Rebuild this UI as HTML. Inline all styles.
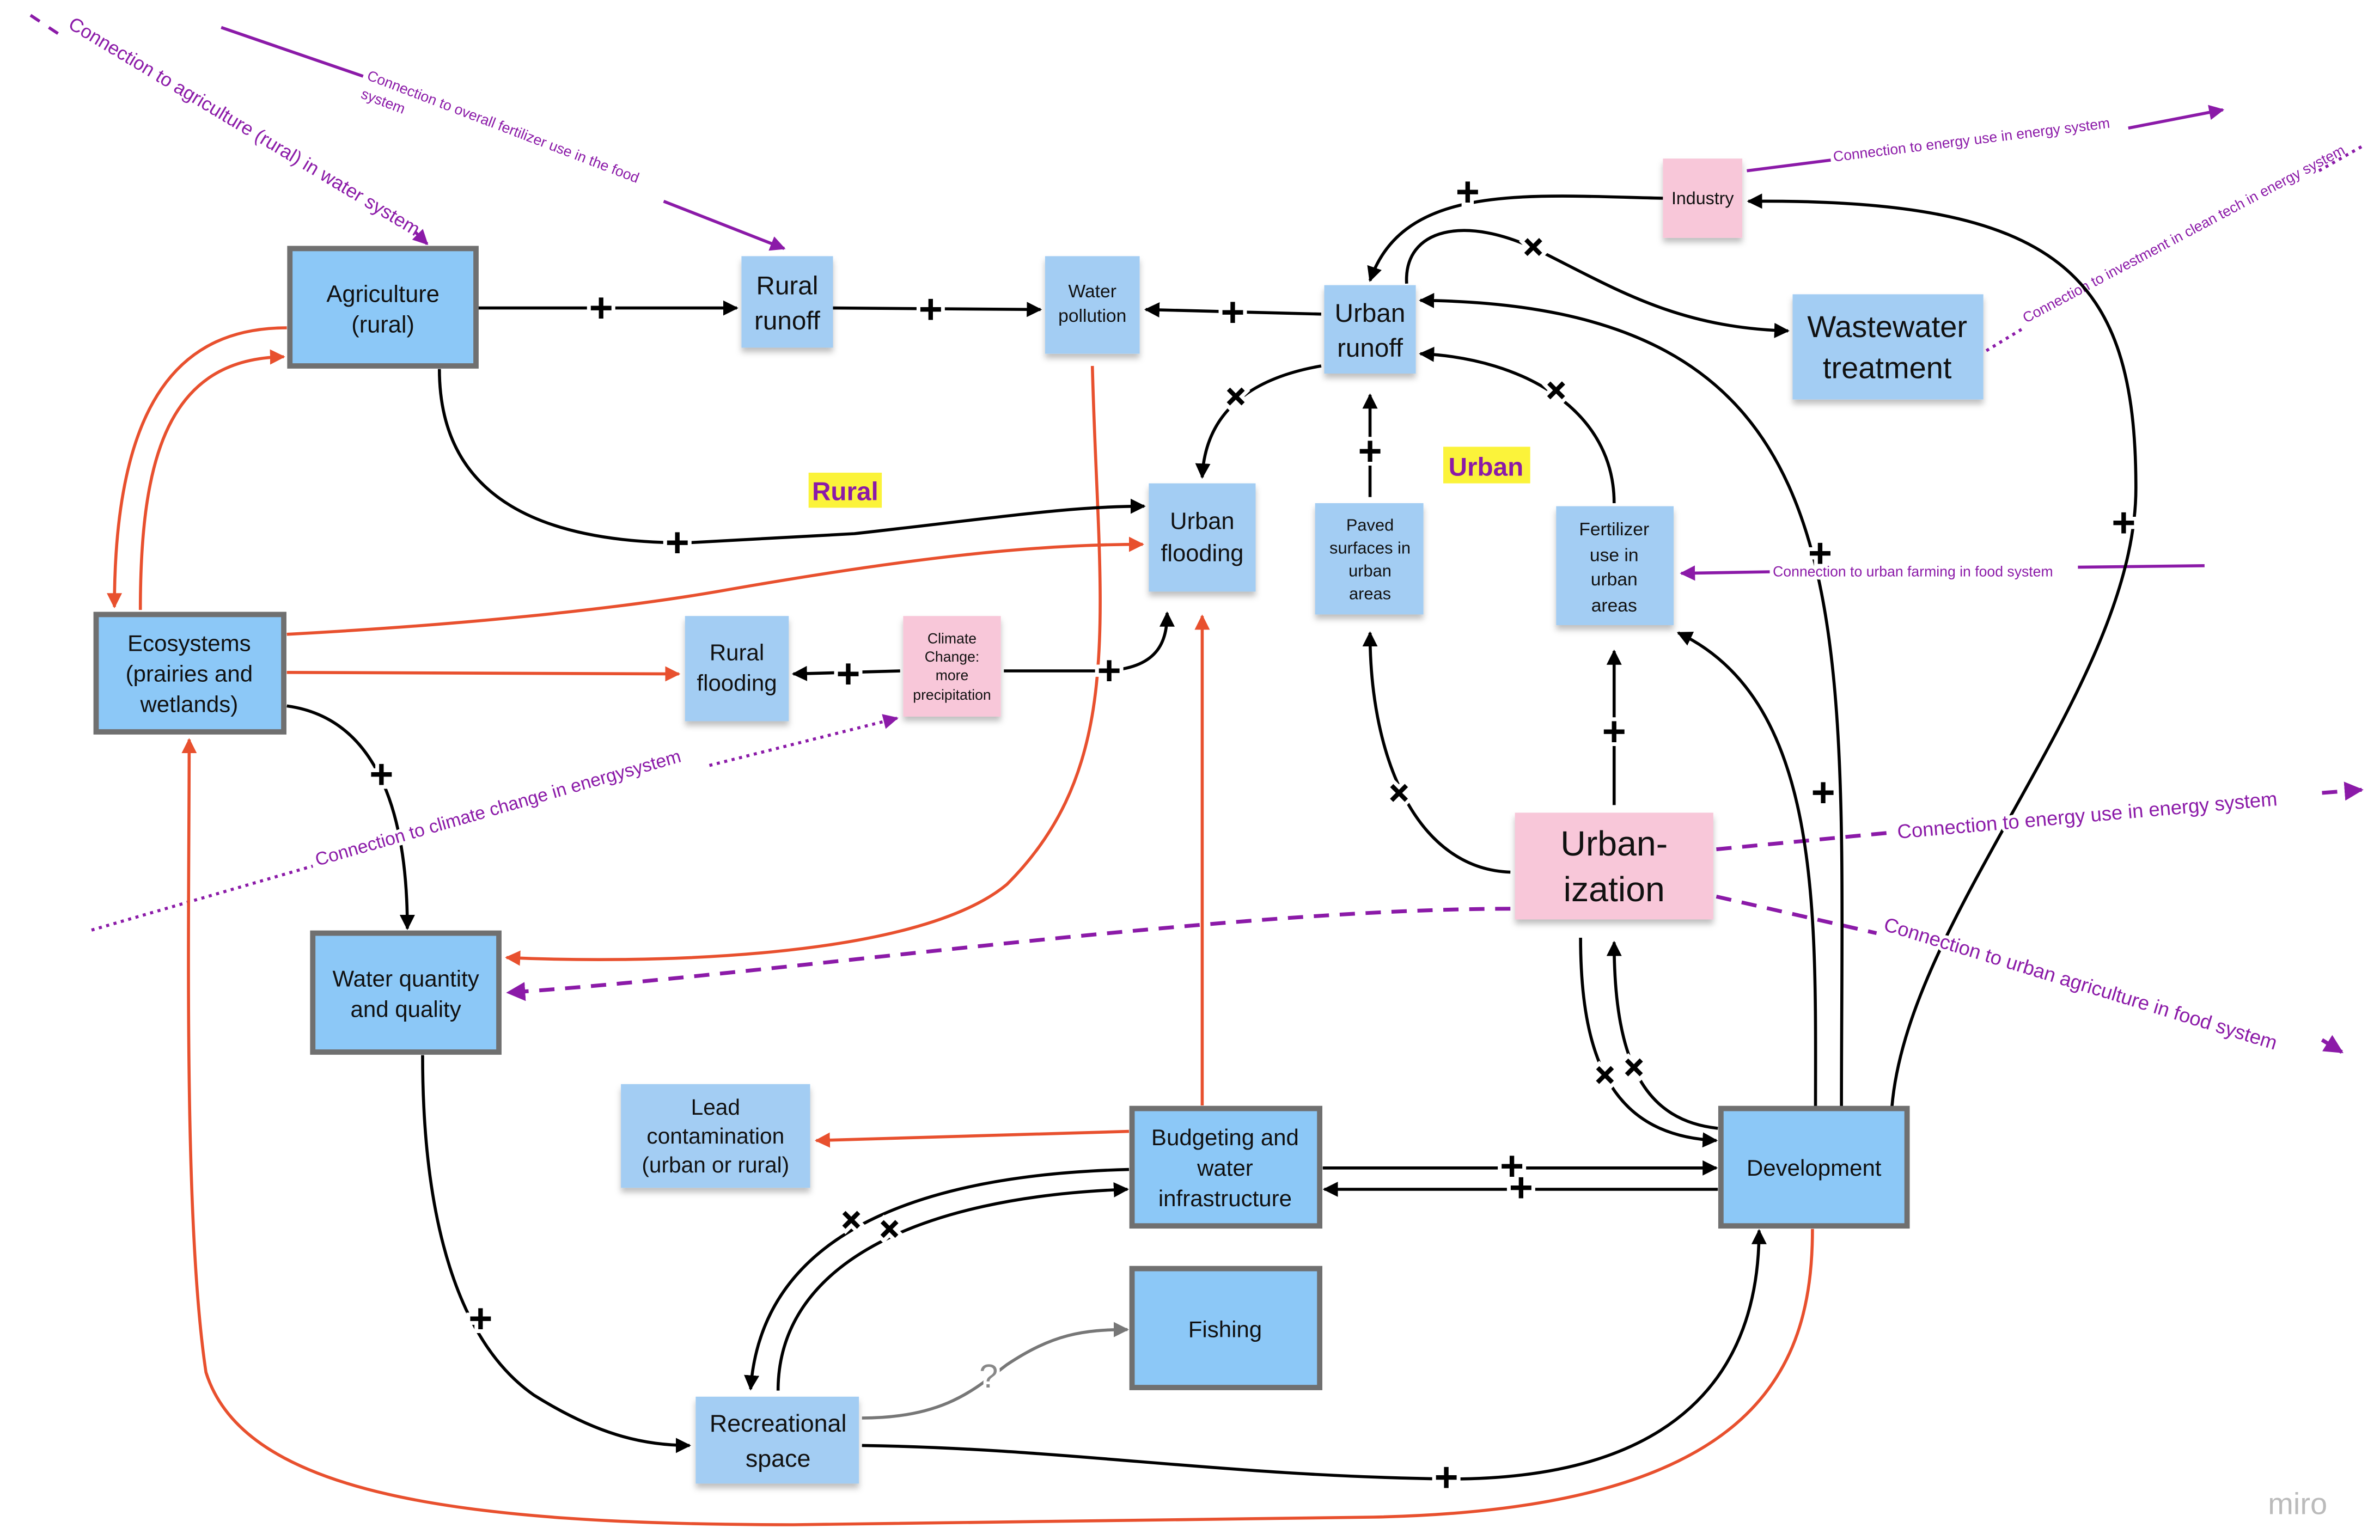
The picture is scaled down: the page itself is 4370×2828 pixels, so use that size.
<!DOCTYPE html>
<html><head><meta charset="utf-8"><style>
html,body{margin:0;padding:0;background:#fff;}
svg{display:block;}
text{font-family:"Liberation Sans",sans-serif;}
</style></head><body>
<svg width="4370" height="2828" viewBox="0 0 1560 1010" preserveAspectRatio="none" xmlns="http://www.w3.org/2000/svg">
<defs>
<marker id="ab" viewBox="0 0 10 10" refX="9" refY="5" markerWidth="5" markerHeight="5" orient="auto"><path d="M0,0L10,5L0,10z" fill="#000"/></marker>
<marker id="ar" viewBox="0 0 10 10" refX="9" refY="5" markerWidth="5" markerHeight="5" orient="auto"><path d="M0,0L10,5L0,10z" fill="#e8502e"/></marker>
<marker id="ap" viewBox="0 0 10 10" refX="9" refY="5" markerWidth="5" markerHeight="5" orient="auto"><path d="M0,0L10,5L0,10z" fill="#8b1aa8"/></marker>
<marker id="ag" viewBox="0 0 10 10" refX="9" refY="5" markerWidth="5" markerHeight="5" orient="auto"><path d="M0,0L10,5L0,10z" fill="#777"/></marker>
<filter id="sh" x="-10%" y="-10%" width="120%" height="130%"><feDropShadow dx="0" dy="3" stdDeviation="2" flood-color="#000" flood-opacity="0.25"/></filter>
</defs>

<g stroke="#8b1aa8" stroke-width="2" fill="none">
<path d="M20,10 L26,14 M32,18 L38,22"/>
<path d="M272,152 L280,160" marker-end="url(#ap)"/>
<path d="M145,18 L238,50"/>
<path d="M435,132 L514,163" marker-end="url(#ap)"/>
<path d="M1145,112 L1200,105"/>
<path d="M1395,84 L1457,72" marker-end="url(#ap)"/>
<path d="M1302,230 L1325,216" stroke-dasharray="2,3"/>
<path d="M1520,112 L1550,95" stroke-dasharray="2,3"/>
<path d="M1445,371 L1362,372"/>
<path d="M1160,375 L1102,376" marker-end="url(#ap)"/>
<path d="M60,610 L205,568" stroke-dasharray="2,3"/>
<path d="M465,502 L588,471" stroke-dasharray="2,3" marker-end="url(#ap)"/>
<path d="M1125,557 L1240,546" stroke-dasharray="10,7" stroke-width="2.5"/>
<path d="M1522,520 L1548,518" stroke-dasharray="10,7" stroke-width="2.5" marker-end="url(#ap)"/>
<path d="M1125,588 L1230,612" stroke-dasharray="10,7" stroke-width="2.5"/>
<path d="M1522,682 L1535,690" stroke-width="2.5" marker-end="url(#ap)"/>
<path d="M990,596 C800,596 500,640 333,651" stroke-dasharray="10,7" stroke-width="2.5" marker-end="url(#ap)"/>
</g>
<g fill="#8b1aa8">
<text x="44" y="18" font-size="12.5" transform="rotate(31 44 18)">Connection to agriculture (rural) in water system</text>
<text x="240" y="52" font-size="9.5" transform="rotate(21 240 52)">Connection to overall fertilizer use in the food</text>
<text x="236" y="64" font-size="9.5" transform="rotate(21 236 64)">system</text>
<text x="1202" y="106" font-size="9.5" transform="rotate(-7 1202 106)">Connection to energy use in energy system</text>
<text x="1328" y="212" font-size="9.5" transform="rotate(-28 1328 212)">Connection to investment in clean tech in energy system</text>
</g>

<g stroke="#e8502e" stroke-width="2" fill="none">
<path d="M92,400 C92,300 110,235 186,234" marker-end="url(#ar)"/>
<path d="M188,215 C120,215 75,260 75,398" marker-end="url(#ar)"/>
<path d="M188,416 C300,410 400,400 470,388 C600,365 680,357 749,357" marker-end="url(#ar)"/>
<path d="M188,441 L445,442" marker-end="url(#ar)"/>
<path d="M716,240 C720,400 740,500 660,580 C600,630 420,632 332,628" marker-end="url(#ar)"/>
<path d="M788,725 L788,404" marker-end="url(#ar)"/>
<path d="M740,742 L535,748" marker-end="url(#ar)"/>
<path d="M1188,806 C1188,900 1150,990 900,995 L520,1000 C300,1000 160,980 135,900 C120,800 124,600 124,485" marker-end="url(#ar)"/>
</g>

<g stroke="#000" stroke-width="2" fill="none">
<path d="M312,202 L483,202" marker-end="url(#ab)"/>
<path d="M546,202 L682,203" marker-end="url(#ab)"/>
<path d="M866,206 L751,203" marker-end="url(#ab)"/>
<path d="M288,242 C288,330 360,356 450,356 L560,350 C650,340 700,332 750,332" marker-end="url(#ab)"/>
<path d="M866,240 C820,248 790,270 788,313" marker-end="url(#ab)"/>
<path d="M898,326 L898,259" marker-end="url(#ab)"/>
<path d="M1058,330 C1058,270 1000,235 931,232" marker-end="url(#ab)"/>
<path d="M1090,130 C1000,128 920,120 898,184" marker-end="url(#ab)"/>
<path d="M922,186 C920,150 960,140 1010,165 C1060,190 1100,215 1172,217" marker-end="url(#ab)"/>
<path d="M1207,727 C1207,400 1230,200 931,197" marker-end="url(#ab)"/>
<path d="M1240,727 C1250,600 1400,450 1400,320 C1400,180 1350,130 1146,132" marker-end="url(#ab)"/>
<path d="M1190,727 C1190,600 1195,460 1100,415" marker-end="url(#ab)"/>
<path d="M1058,528 L1058,427" marker-end="url(#ab)"/>
<path d="M990,572 C930,570 898,500 898,415" marker-end="url(#ab)"/>
<path d="M1036,615 C1036,700 1060,745 1125,748" marker-end="url(#ab)"/>
<path d="M1126,740 C1080,735 1058,700 1058,618" marker-end="url(#ab)"/>
<path d="M867,766 L1125,766" marker-end="url(#ab)"/>
<path d="M1126,780 L868,780" marker-end="url(#ab)"/>
<path d="M188,463 C240,470 267,520 267,609" marker-end="url(#ab)"/>
<path d="M658,440 L720,440 C760,440 765,420 765,402" marker-end="url(#ab)"/>
<path d="M590,440 L520,442" marker-end="url(#ab)"/>
<path d="M277,692 C277,800 300,880 350,915 C390,940 420,948 452,948" marker-end="url(#ab)"/>
<path d="M740,767 C620,770 500,800 492,911" marker-end="url(#ab)"/>
<path d="M510,912 C510,830 600,785 739,780" marker-end="url(#ab)"/>
<path d="M565,948 C700,950 800,968 950,970 C1100,970 1153,900 1153,807" marker-end="url(#ab)"/>
</g>
<path d="M565,930 C620,930 640,910 660,895 C690,875 710,872 739,872" stroke="#777" stroke-width="2" fill="none" marker-end="url(#ag)"/>

<g fill="#8b1aa8" stroke="#fff" stroke-width="4" paint-order="stroke">
<text x="1162" y="378" font-size="9.5">Connection to urban farming in food system</text>
<text x="208" y="568" font-size="12" transform="rotate(-16 208 568)">Connection to climate change in energysystem</text>
<text x="1244" y="550" font-size="13" transform="rotate(-5 1244 550)">Connection to energy use in energy system</text>
<text x="1234" y="610" font-size="13" transform="rotate(17 1234 610)">Connection to urban agriculture in food system</text>
</g>

<g font-size="27" font-weight="bold" text-anchor="middle" fill="#000" stroke="#fff" stroke-width="5" paint-order="stroke">
<text x="394" y="211">+</text><text x="610" y="212">+</text><text x="808" y="214">+</text>
<text x="444" y="365">+</text><text x="898" y="305">+</text><text x="962" y="135">+</text>
<text x="556" y="451">+</text><text x="727" y="449">+</text><text x="250" y="517">+</text>
<text x="1058" y="489">+</text><text x="1195" y="529">+</text><text x="1193" y="372">+</text>
<text x="1392" y="352">+</text><text x="991" y="774">+</text><text x="997" y="788">+</text>
<text x="948" y="978">+</text><text x="315" y="874">+</text>
<text x="810" y="269" transform="rotate(45 810 260)">+</text>
<text x="1020" y="265" transform="rotate(45 1020 256)">+</text>
<text x="1005" y="171" transform="rotate(45 1005 162)">+</text>
<text x="917" y="529" transform="rotate(45 917 520)">+</text>
<text x="1052" y="714" transform="rotate(45 1052 705)">+</text>
<text x="1071" y="709" transform="rotate(45 1071 700)">+</text>
<text x="558" y="809" transform="rotate(45 558 800)">+</text>
<text x="583" y="815" transform="rotate(45 583 806)">+</text>
</g>
<text x="648" y="910" font-size="22" fill="#888" text-anchor="middle" stroke="#fff" stroke-width="4" paint-order="stroke">?</text>

<g fill="#8cc8f7" stroke="#707070" stroke-width="3.5">
<rect x="190" y="163" width="122" height="77"/>
<rect x="63" y="403" width="123" height="77"/>
<rect x="205" y="612" width="122" height="78"/>
<rect x="742" y="727" width="123" height="77"/>
<rect x="1128" y="727" width="122" height="77"/>
<rect x="742" y="832" width="123" height="78"/>
</g>
<g filter="url(#sh)">
<rect x="486" y="168" width="60" height="60" fill="#a3cdf3"/>
<rect x="685" y="168" width="62" height="64" fill="#a3cdf3"/>
<rect x="868" y="187" width="60" height="58" fill="#a3cdf3"/>
<rect x="1090" y="104" width="52" height="52" fill="#f8c7d9"/>
<rect x="1175" y="193" width="125" height="69" fill="#a3cdf3"/>
<rect x="753" y="317" width="70" height="71" fill="#a3cdf3"/>
<rect x="862" y="330" width="71" height="73" fill="#a3cdf3"/>
<rect x="1020" y="332" width="77" height="78" fill="#a3cdf3"/>
<rect x="449" y="404" width="68" height="69" fill="#a3cdf3"/>
<rect x="592" y="404" width="64" height="66" fill="#f8c7d9"/>
<rect x="993" y="533" width="130" height="70" fill="#f8c7d9"/>
<rect x="407" y="711" width="124" height="68" fill="#a3cdf3"/>
<rect x="456" y="916" width="107" height="57" fill="#a3cdf3"/>
</g>
<rect x="530" y="310" width="48" height="23" fill="#fbf33a"/>
<rect x="946" y="293" width="57" height="24" fill="#fbf33a"/>

<g text-anchor="middle" fill="#111">
<text x="251" y="198" font-size="15.5">Agriculture</text><text x="251" y="218" font-size="15.5">(rural)</text>
<text x="516" y="193" font-size="17">Rural</text><text x="516" y="216" font-size="17">runoff</text>
<text x="716" y="195" font-size="12">Water</text><text x="716" y="211" font-size="12">pollution</text>
<text x="898" y="211" font-size="17">Urban</text><text x="898" y="234" font-size="17">runoff</text>
<text x="1116" y="134" font-size="11.5">Industry</text>
<text x="1237" y="221" font-size="20">Wastewater</text><text x="1237" y="248" font-size="20">treatment</text>
<text x="788" y="347" font-size="15.5">Urban</text><text x="788" y="368" font-size="15.5">flooding</text>
<text x="898" y="348" font-size="11">Paved</text><text x="898" y="363" font-size="11">surfaces in</text><text x="898" y="378" font-size="11">urban</text><text x="898" y="393" font-size="11">areas</text>
<text x="1058" y="351" font-size="12">Fertilizer</text><text x="1058" y="368" font-size="12">use in</text><text x="1058" y="384" font-size="12">urban</text><text x="1058" y="401" font-size="12">areas</text>
<text x="554" y="328" font-size="17" font-weight="bold" fill="#8b1aa8">Rural</text>
<text x="974" y="312" font-size="17" font-weight="bold" fill="#8b1aa8">Urban</text>
<text x="124" y="427" font-size="15">Ecosystems</text><text x="124" y="447" font-size="15">(prairies and</text><text x="124" y="467" font-size="15">wetlands)</text>
<text x="483" y="433" font-size="15">Rural</text><text x="483" y="453" font-size="15">flooding</text>
<text x="624" y="422" font-size="9.5">Climate</text><text x="624" y="434" font-size="9.5">Change:</text><text x="624" y="446" font-size="9.5">more</text><text x="624" y="459" font-size="9.5">precipitation</text>
<text x="1058" y="561" font-size="23">Urban-</text><text x="1058" y="591" font-size="23">ization</text>
<text x="266" y="647" font-size="15">Water quantity</text><text x="266" y="667" font-size="15">and quality</text>
<text x="469" y="731" font-size="14.5">Lead</text><text x="469" y="750" font-size="14.5">contamination</text><text x="469" y="769" font-size="14.5">(urban or rural)</text>
<text x="803" y="751" font-size="15">Budgeting and</text><text x="803" y="771" font-size="15">water</text><text x="803" y="791" font-size="15">infrastructure</text>
<text x="1189" y="771" font-size="15">Development</text>
<text x="803" y="877" font-size="15">Fishing</text>
<text x="510" y="939" font-size="16">Recreational</text><text x="510" y="962" font-size="16">space</text>
<text x="1506" y="993" font-size="20" fill="#bbb">miro</text>
</g>
</svg>
</body></html>
